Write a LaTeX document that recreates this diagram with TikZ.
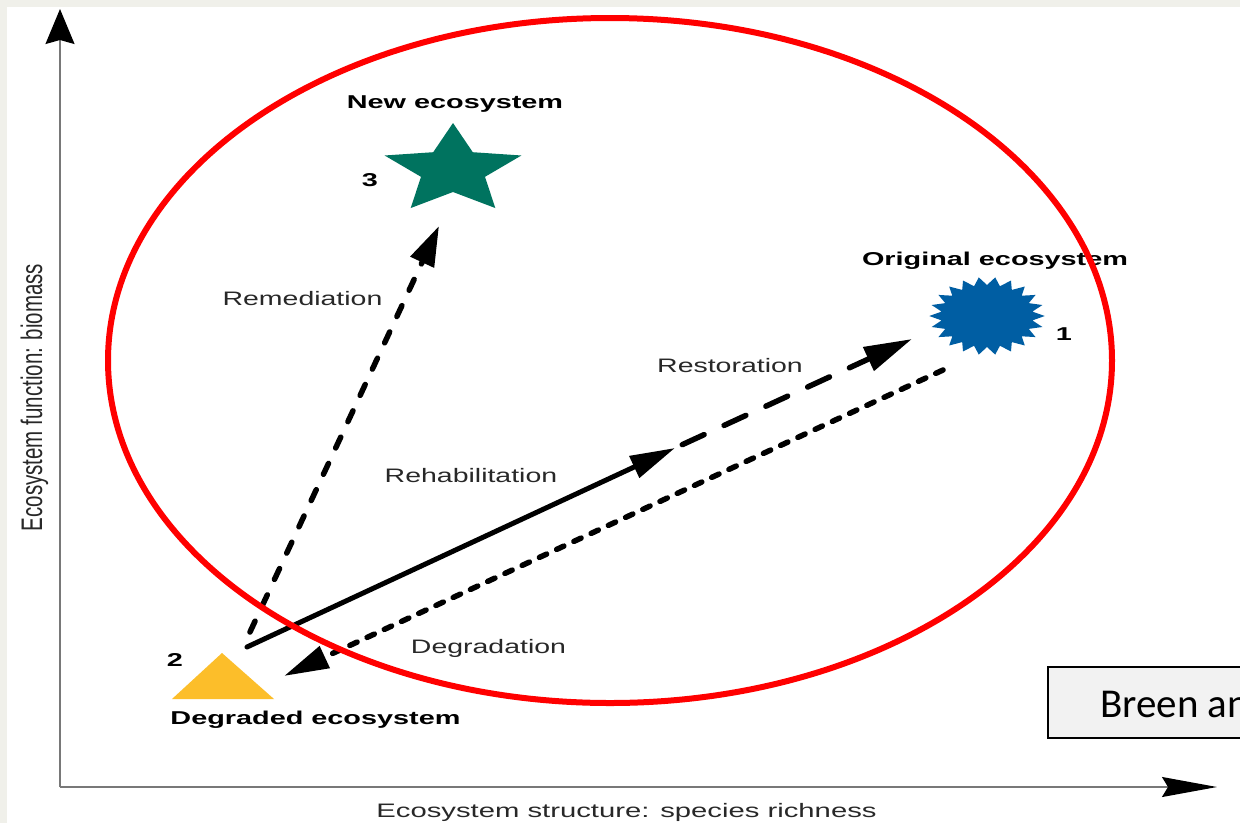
\documentclass[tikz,border=0pt]{standalone}
\usepackage{fontspec}
\setmainfont{Liberation Sans}
\newfontfamily\carl{Carlito}
\usepackage{graphicx}
\usetikzlibrary{arrows.meta}
\definecolor{bggrey}{RGB}{240,240,234}
\definecolor{starcol}{RGB}{0,115,95}
\definecolor{blobcol}{RGB}{0,94,163}
\definecolor{tricol}{RGB}{252,190,42}
\definecolor{axisgrey}{RGB}{120,120,120}
\definecolor{boxfill}{RGB}{242,242,242}
\definecolor{txtgrey}{RGB}{40,40,40}
\begin{document}
\begin{tikzpicture}[x=1pt,y=-1pt,
  boldlbl/.style={inner sep=0pt, anchor=base, text=black, font=\fontsize{18.6}{20}\selectfont\bfseries},
  reglbl/.style={inner sep=0pt, anchor=base, text=txtgrey, font=\fontsize{19.5}{21}\selectfont},
  axisline/.style={axisgrey, line width=1.5pt},
  remline/.style={line width=5.5pt, line cap=round, dash pattern=on 12pt off 17pt, -{Triangle[length=40pt,width=25pt]}},
  rehline/.style={line width=5pt, line cap=round, -{Triangle[length=45pt,width=23pt]}},
  resline/.style={line width=5.5pt, line cap=round, dash pattern=on 24pt off 22pt, dash phase=-8pt, -{Triangle[length=48pt,width=25pt]}},
  degline/.style={line width=5.5pt, line cap=round, dash pattern=on 8pt off 11pt, -{Triangle[length=45pt,width=23pt]}}]
\useasboundingbox (0,0) rectangle (1240,823);
\fill[bggrey] (0,0) rectangle (1240,823);
\fill[white] (7,7) rectangle (1240,823);

% axes
\coordinate (origin) at (60,787);
\coordinate (ytop) at (60,9);
\coordinate (xend) at (1217,787);
\draw[axisline, -{Stealth[length=35pt,width=29pt,inset=4pt,color=black]}] (origin) -- (ytop);
\draw[axisline, -{Stealth[length=55pt,width=20pt,inset=6pt,color=black]}] (origin) -- (xend);

% new ecosystem star
\begin{scope}[shift={(453,170)}, xscale=1.53, yscale=-1]
\fill[starcol] (90:47) -- (126:22) -- (162:47) -- (198:22) -- (234:47) -- (270:22) -- (306:47) -- (342:22) -- (18:47) -- (54:22) -- cycle;
\end{scope}

% original ecosystem burst
\begin{scope}[shift={(987,316)}, xscale=1.48]
\fill[blobcol] (0:39) \foreach \i in {1,...,43} { -- ({\i*360/44}:{ifthenelse(isodd(\i),31,39)}) } -- cycle;
\end{scope}

% degraded ecosystem triangle
\fill[tricol] (222,653) -- (274,699) -- (172,699) -- cycle;

% connector ends
\coordinate (remS) at (250,632);
\coordinate (remE) at (439,226);
\coordinate (rehS) at (247,647);
\coordinate (rehE) at (675,448);
\coordinate (resE) at (912,339);
\coordinate (degS) at (943,370);
\coordinate (degE) at (284,676);

\draw[remline] (remS) -- (remE);
\draw[rehline] (rehS) -- (rehE);
\draw[resline] (rehE) -- (resE);
\draw[degline] (degS) -- (degE);

% labels
\node[boldlbl] (newlbl) at (455,108) {\scalebox{1.55}[1]{New ecosystem}};
\node[boldlbl] (orilbl) at (995,265) {\scalebox{1.55}[1]{Original ecosystem}};
\node[boldlbl] (deglbl) at (315.5,724) {\scalebox{1.55}[1]{Degraded ecosystem}};
\node[boldlbl] (n3) at (370,186) {\scalebox{1.55}[1]{3}};
\node[boldlbl] (n2) at (175,666) {\scalebox{1.55}[1]{2}};
\node[boldlbl] (n1) at (1064,340) {\scalebox{1.55}[1]{1}};
\node[reglbl] (remlbl) at (302.5,305) {\scalebox{1.46}[1]{Remediation}};
\node[reglbl] (reslbl) at (730,372) {\scalebox{1.46}[1]{Restoration}};
\node[reglbl] (rehlbl) at (471,482) {\scalebox{1.46}[1]{Rehabilitation}};
\node[reglbl] (dglbl) at (488.5,653) {\scalebox{1.46}[1]{Degradation}};
\node[reglbl] (xlbl) at (626.5,817) {\scalebox{1.5}[1]{Ecosystem structure: species richness}};
\node[reglbl, rotate=90, font=\fontsize{20.5}{22}\selectfont] (ylbl) at (42,397.5) {\scalebox{1}[1.45]{Ecosystem function: biomass}};

% red highlight ellipse
\draw[red, line width=6pt] (610,360.5) ellipse [x radius=502, y radius=342.5];

% citation box
\draw[fill=boxfill, line width=1.3pt] (1048,667) rectangle (1262,738);
\node[inner sep=0pt, anchor=base west, font=\carl\fontsize{41}{44}\selectfont] (cite) at (1100,717) {Breen an};
\end{tikzpicture}
\end{document}
